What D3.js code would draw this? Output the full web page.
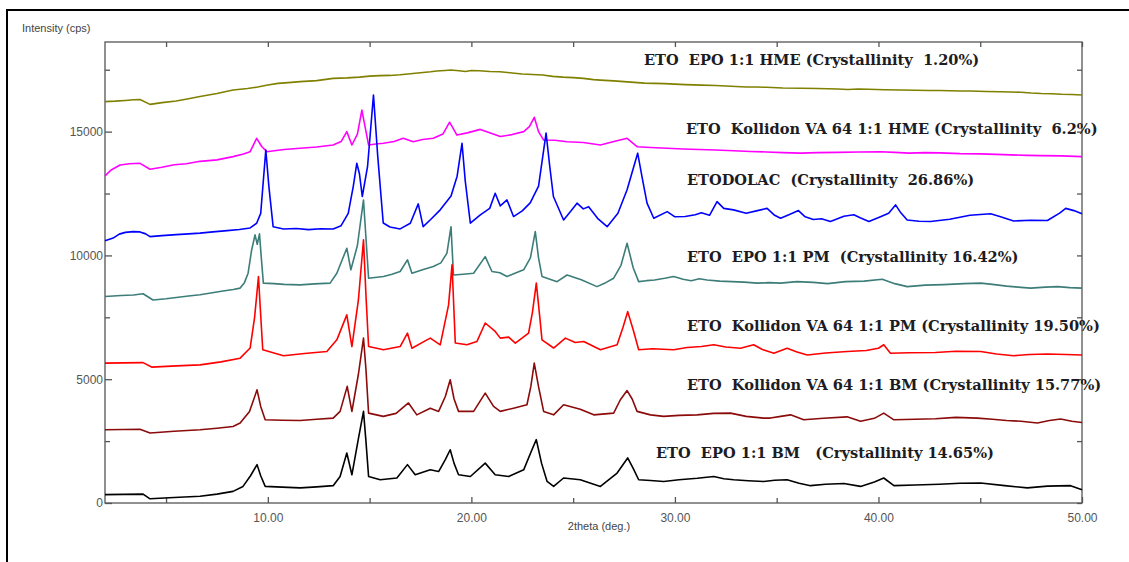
<!DOCTYPE html>
<html>
<head>
<meta charset="utf-8">
<script src="https://cdn.jsdelivr.net/npm/d3@7"></script>
<style>
  html, body { margin: 0; padding: 0; background: #fff; }
  svg { display: block; }
</style>
</head>
<body>
<svg id="xrd-chart" width="1129" height="562"></svg>
<script>
// 2theta (deg.) / intensity (cps)
const hmeEpo = [[2.0,16210],[2.5,16230],[3.0,16260],[3.4,16290],[3.72,16300],[4.21,16100],[4.8,16170],[5.5,16240],[6.1,16330],[6.67,16420],[7.5,16540],[8.29,16680],[9.0,16740],[9.5,16800],[10.0,16880],[10.5,16950],[11.0,16980],[11.59,17020],[12.4,17060],[13.21,17150],[13.9,17170],[14.5,17200],[15.0,17240],[15.5,17260],[16.0,17270],[16.5,17300],[17.0,17340],[17.5,17380],[18.0,17420],[18.3,17450],[18.7,17470],[19.0,17490],[19.4,17460],[19.7,17430],[20.0,17470],[20.4,17460],[20.9,17430],[21.4,17420],[22.0,17370],[22.5,17330],[23.0,17310],[23.5,17290],[24.0,17230],[24.5,17200],[25.0,17180],[25.5,17150],[26.0,17100],[26.34,17080],[27.0,17050],[27.5,17020],[28.0,16990],[28.5,16960],[29.0,16950],[29.5,16940],[30.0,16920],[30.5,16900],[31.3,16880],[32.0,16860],[32.5,16840],[33.0,16820],[33.5,16800],[34.0,16800],[34.5,16790],[35.3,16760],[36.2,16750],[37.0,16740],[37.5,16730],[38.0,16720],[38.5,16700],[39.0,16720],[39.5,16710],[40.3,16690],[41.1,16680],[41.8,16670],[42.5,16660],[43.0,16660],[43.5,16650],[44.0,16640],[44.5,16640],[45.3,16620],[46.0,16610],[46.5,16600],[47.0,16590],[47.5,16560],[48.0,16540],[48.5,16530],[49.0,16510],[49.5,16500],[50.0,16480]];

const hmeKol = [[2.0,13210],[2.3,13450],[2.74,13650],[3.2,13700],[3.72,13720],[4.21,13480],[4.8,13560],[5.4,13660],[6.0,13700],[6.67,13800],[7.5,13860],[8.29,13990],[8.8,14100],[9.13,14190],[9.45,14730],[9.7,14400],[9.95,14190],[10.4,14240],[10.8,14280],[11.59,14330],[12.4,14380],[13.21,14460],[13.6,14600],[13.88,15000],[14.13,14460],[14.4,14900],[14.62,15870],[14.8,15100],[14.95,14460],[15.3,14500],[15.68,14530],[16.2,14600],[16.65,14730],[17.14,14590],[17.6,14680],[18.13,14730],[18.6,14900],[18.93,15380],[19.29,14860],[19.8,14950],[20.44,15090],[20.9,14950],[21.42,14800],[22.0,14880],[22.57,15000],[22.85,15200],[23.09,15580],[23.3,15000],[23.55,14660],[24.1,14650],[24.7,14590],[25.5,14560],[26.34,14460],[27.0,14600],[27.65,14730],[28.14,14390],[28.8,14360],[29.62,14330],[30.4,14300],[31.2,14280],[32.0,14260],[32.88,14230],[33.7,14200],[34.5,14180],[35.3,14150],[36.17,14130],[37.0,14150],[38.0,14160],[39.0,14180],[40.1,14190],[40.8,14160],[41.5,14130],[42.3,14150],[43.0,14140],[44.0,14110],[45.0,14100],[45.8,14080],[46.5,14060],[47.3,14040],[48.0,14030],[49.0,14020],[50.0,13990]];

const etodolac = [[2.0,10590],[2.4,10700],[2.7,10860],[3.0,10930],[3.38,10960],[3.72,10950],[4.0,10870],[4.21,10760],[4.8,10800],[5.5,10840],[6.1,10870],[6.67,10900],[7.3,10950],[8.0,11000],[8.6,11050],[9.13,11110],[9.45,11300],[9.65,11700],[9.9,14260],[10.05,12800],[10.26,11160],[10.77,11070],[11.4,11090],[12.0,11040],[12.6,11080],[13.21,11070],[13.6,11200],[13.95,11700],[14.2,12800],[14.37,13720],[14.5,13300],[14.64,12380],[14.9,13600],[15.19,16480],[15.4,14000],[15.67,11310],[16.0,11150],[16.5,11070],[17.0,11300],[17.39,12080],[17.63,11160],[18.0,11450],[18.47,11840],[19.0,12400],[19.3,13200],[19.54,14530],[19.7,13000],[19.95,11300],[20.44,11640],[20.9,11900],[21.17,12510],[21.42,12000],[21.75,12240],[22.07,11570],[22.5,11800],[22.89,12120],[23.3,12800],[23.67,14940],[23.85,13600],[24.03,12380],[24.53,11430],[24.9,11800],[25.19,12110],[25.5,11880],[25.76,11970],[26.2,11500],[26.67,11160],[27.2,11700],[27.65,12650],[28.17,14130],[28.4,13100],[28.63,12110],[28.96,11500],[29.62,11770],[30.0,11560],[30.5,11570],[31.0,11640],[31.3,11720],[31.7,11620],[32.07,12170],[32.4,11900],[32.88,11840],[33.5,11700],[34.0,11800],[34.53,11900],[34.9,11620],[35.19,11500],[35.6,11640],[36.07,11810],[36.4,11560],[36.8,11450],[37.2,11480],[37.64,11370],[38.3,11580],[38.79,11640],[39.1,11520],[39.53,11370],[40.1,11560],[40.5,11700],[40.84,12040],[41.1,11720],[41.41,11430],[42.0,11380],[42.56,11370],[43.5,11460],[44.5,11620],[45.51,11680],[46.0,11560],[46.64,11390],[47.5,11420],[48.3,11410],[48.9,11710],[49.2,11900],[49.6,11810],[50.0,11680]];

const pmEpo = [[2.0,8340],[2.8,8380],[3.4,8400],[3.87,8450],[4.36,8200],[5.0,8250],[5.5,8300],[6.1,8360],[6.67,8410],[7.2,8480],[7.8,8560],[8.3,8620],[8.64,8680],[8.85,8900],[9.03,9280],[9.2,10200],[9.37,10830],[9.48,10450],[9.59,10870],[9.68,9900],[9.78,8880],[10.3,8860],[10.8,8830],[11.59,8810],[12.3,8850],[13.06,8880],[13.39,9280],[13.88,10290],[14.08,9420],[14.4,10400],[14.7,12240],[14.95,9080],[15.68,9150],[16.1,9240],[16.5,9350],[16.86,9820],[17.08,9280],[17.6,9420],[18.13,9550],[18.5,9700],[18.8,10090],[19.0,11160],[19.12,9210],[19.6,9240],[20.11,9280],[20.68,9950],[21.01,9350],[21.4,9300],[21.75,9150],[22.2,9300],[22.57,9420],[22.9,9900],[23.14,10960],[23.3,9900],[23.47,9150],[24.21,8940],[24.7,9210],[25.4,9020],[26.17,8740],[26.6,8900],[26.99,9080],[27.35,9600],[27.65,10490],[27.95,9500],[28.22,8940],[28.6,8980],[29.0,9010],[29.5,9080],[29.94,9150],[30.4,9040],[30.8,8980],[31.2,9060],[31.58,9010],[32.2,8960],[32.8,8940],[33.4,8920],[34.04,8880],[34.6,8900],[35.19,8880],[36.0,8940],[36.8,8910],[37.5,8860],[38.38,8940],[39.3,8960],[40.19,9040],[40.8,8860],[41.41,8740],[42.3,8800],[43.2,8820],[44.2,8860],[45.02,8880],[45.6,8830],[46.3,8760],[47.0,8710],[47.48,8680],[48.2,8720],[48.8,8740],[49.4,8700],[50.0,8680]];

const pmKol = [[2.0,5650],[2.9,5660],[3.87,5670],[4.29,5490],[5.5,5540],[6.67,5580],[7.7,5700],[8.64,5850],[9.13,6260],[9.35,7500],[9.54,9150],[9.62,8000],[9.75,6190],[10.77,5950],[11.8,6040],[12.9,6120],[13.39,6590],[13.88,7600],[14.13,6320],[14.45,8200],[14.7,10630],[14.82,8400],[14.95,6320],[15.68,6190],[16.5,6320],[16.86,6860],[17.08,6250],[17.82,6590],[17.98,6660],[18.47,6390],[18.88,8000],[19.05,9620],[19.21,6460],[19.78,6390],[20.27,6520],[20.68,7270],[21.17,6930],[21.42,6660],[21.83,6700],[22.16,6460],[22.81,6860],[23.0,7700],[23.19,8880],[23.35,7600],[23.47,6590],[24.04,6260],[24.62,6660],[25.1,6480],[25.52,6520],[26.34,6190],[27.16,6390],[27.45,7100],[27.68,7730],[27.95,7000],[28.22,6190],[28.9,6230],[29.94,6190],[30.6,6280],[31.3,6320],[31.91,6390],[32.5,6300],[33.22,6250],[33.87,6390],[34.3,6200],[34.86,6050],[35.51,6250],[36.0,6100],[36.5,5980],[37.4,6060],[38.46,6120],[39.4,6160],[40.0,6250],[40.26,6390],[40.59,6050],[41.5,6070],[42.8,6080],[43.8,6130],[45.02,6120],[45.8,6020],[46.64,5950],[47.4,6000],[48.3,6020],[49.2,6000],[50.0,5980]];

const bmKol = [[2.0,2960],[2.9,2970],[3.72,2980],[4.21,2830],[5.4,2900],[6.67,2960],[7.5,3020],[8.29,3090],[8.64,3230],[9.1,3700],[9.47,4570],[9.65,3900],[9.87,3360],[10.7,3340],[11.59,3330],[12.4,3380],[13.21,3430],[13.55,3700],[13.9,4710],[14.13,3700],[14.45,5200],[14.7,6660],[14.82,5400],[14.95,3630],[15.67,3500],[16.3,3620],[16.91,4040],[17.32,3560],[17.98,3830],[18.39,3700],[18.72,4300],[18.96,4980],[19.15,4200],[19.37,3700],[20.11,3700],[20.68,4440],[21.09,3900],[21.42,3700],[22.07,3830],[22.73,3970],[22.92,4700],[23.09,5650],[23.3,4700],[23.55,3700],[24.04,3560],[24.53,3970],[25.35,3790],[26.01,3560],[26.99,3630],[27.32,4170],[27.65,4540],[27.9,4200],[28.14,3700],[28.8,3560],[29.45,3500],[30.2,3540],[31.09,3560],[31.9,3620],[32.73,3630],[33.5,3500],[34.36,3430],[34.69,3430],[35.2,3500],[35.68,3560],[36.33,3360],[37.3,3420],[38.46,3480],[39.12,3300],[39.8,3420],[40.26,3630],[40.76,3360],[41.8,3380],[42.8,3400],[43.8,3460],[44.86,3430],[45.6,3380],[46.3,3330],[47.0,3300],[47.81,3230],[48.4,3330],[48.95,3390],[49.5,3300],[50.0,3250]];

const bmEpo = [[2.0,340],[2.9,350],[3.87,360],[4.21,170],[5.4,220],[6.67,270],[7.5,360],[8.29,470],[8.78,670],[9.15,1100],[9.47,1550],[9.65,1100],[9.87,670],[10.7,640],[11.59,610],[12.4,650],[13.21,700],[13.55,1070],[13.88,2020],[14.13,1140],[14.45,2600],[14.7,3700],[14.82,2500],[14.95,1070],[15.52,940],[16.34,1010],[16.86,1550],[17.24,1140],[17.98,1340],[18.39,1270],[18.72,1750],[18.96,2150],[19.15,1600],[19.37,1140],[19.95,1070],[20.68,1610],[21.17,1140],[21.83,1070],[22.57,1340],[22.95,2100],[23.19,2560],[23.45,1600],[23.72,870],[24.04,670],[24.53,1010],[25.35,940],[26.34,670],[27.16,1210],[27.68,1820],[27.95,1400],[28.22,940],[28.8,910],[29.45,870],[30.2,940],[31.1,1000],[31.91,1070],[32.4,980],[32.89,940],[33.6,900],[34.36,870],[34.9,920],[35.51,940],[36.1,800],[36.66,700],[37.4,760],[38.3,790],[39.12,670],[39.8,850],[40.26,1010],[40.76,700],[41.8,730],[43.0,760],[44.0,800],[45.02,810],[46.2,700],[47.31,610],[48.3,680],[49.44,700],[50.0,540]];

const seriesNames = [
    "ETO  EPO 1:1 HME (Crystallinity  1.20%)",
    "ETO  Kollidon VA 64 1:1 HME (Crystallinity  6.2%)",
    "ETODOLAC  (Crystallinity  26.86%)",
    "ETO  EPO 1:1 PM  (Crystallinity 16.42%)",
    "ETO  Kollidon VA 64 1:1 PM (Crystallinity 19.50%)",
    "ETO  Kollidon VA 64 1:1 BM (Crystallinity 15.77%)",
    "ETO  EPO 1:1 BM   (Crystallinity 14.65%)"
];
const seriesData = [hmeEpo, hmeKol, etodolac, pmEpo, pmKol, bmKol, bmEpo];

const xMajorTicks = [10, 20, 30, 40, 50];
const xMinorTicks = [5, 15, 25, 35, 45];
const yMajorTicks = [0, 5000, 10000, 15000];
const yMinorTicks = [2500, 7500, 12500, 17500];
const xDomain = [2, 50];
const yDomain = [0, 18620];

function draw_xrd(containerId = '#xrd-chart') {
    const svg = d3.select(containerId);
    const width = 1129;
    const height = 562;

    const colors = ["#808000", "#ff00ff", "#0000ff", "#3d7d79", "#ff0000", "#8b0a0a", "#000000"];
    // label anchor (left x, baseline y) in pixels
    const labelPos = [[644, 65], [686, 134], [687, 185], [687, 262], [687, 331], [687, 390], [656, 458]];

    svg.append("rect").attr("width", width).attr("height", height).attr("fill", "#fff");

    // outer frame (only top and left edges are visible)
    svg.append("path")
        .attr("d", `M7,${height} L7,10 L${width},10`)
        .attr("fill", "none")
        .attr("stroke", "#000")
        .attr("stroke-width", 2);

    const margin = { top: 42, right: 47, bottom: 59, left: 105 };
    const innerWidth = width - margin.left - margin.right;
    const innerHeight = height - margin.top - margin.bottom;

    const g = svg.append("g")
        .attr("transform", `translate(${margin.left},${margin.top})`);

    const x = d3.scaleLinear().domain(xDomain).range([0, innerWidth]);
    const y = d3.scaleLinear().domain(yDomain).range([innerHeight, 0]);

    const axisColor = "#555";
    const fmt = d3.format(".2f");

    // AXES (ticks point inward)
    g.append("g")
        .attr("transform", `translate(0,${innerHeight})`)
        .call(d3.axisBottom(x).tickValues(xMajorTicks).tickFormat(fmt).tickSizeInner(-6).tickSizeOuter(0).tickPadding(10));
    g.append("g")
        .attr("transform", `translate(0,${innerHeight})`)
        .call(d3.axisBottom(x).tickValues(xMinorTicks).tickFormat("").tickSizeInner(-5).tickSizeOuter(0));

    g.append("g")
        .call(d3.axisTop(x).tickValues(xMajorTicks.concat(xMinorTicks)).tickFormat("").tickSizeInner(-5).tickSizeOuter(0));

    g.append("g")
        .call(d3.axisLeft(y).tickValues(yMajorTicks).tickFormat(d3.format("d")).tickSizeInner(-7).tickSizeOuter(0).tickPadding(2));
    g.append("g")
        .call(d3.axisLeft(y).tickValues(yMinorTicks).tickFormat("").tickSizeInner(-5).tickSizeOuter(0));

    g.append("g")
        .attr("transform", `translate(${innerWidth},0)`)
        .call(d3.axisRight(y).tickValues(yMajorTicks.concat(yMinorTicks)).tickFormat("").tickSizeInner(-5).tickSizeOuter(0));

    g.selectAll(".domain").remove();
    g.append("rect")
        .attr("width", innerWidth)
        .attr("height", innerHeight)
        .attr("fill", "none")
        .attr("stroke", axisColor)
        .attr("stroke-width", 1.3);

    g.selectAll(".tick line").attr("stroke", axisColor).attr("stroke-width", 1.3);
    g.selectAll(".tick text")
        .attr("fill", "#555")
        .style("font-family", "'Liberation Sans', Arial, sans-serif")
        .style("font-size", "12px");

    // LINES
    const line = d3.line()
        .x(d => x(d[0]))
        .y(d => y(d[1]))
        .curve(d3.curveLinear);

    g.selectAll(".xrd-line")
        .data(seriesData)
        .enter().append("path")
        .attr("class", "xrd-line")
        .attr("fill", "none")
        .attr("stroke", (d, i) => colors[i])
        .attr("stroke-width", 1.6)
        .attr("stroke-linejoin", "round")
        .attr("d", line);

    // SERIES LABELS
    svg.selectAll(".series-label")
        .data(seriesNames)
        .enter().append("text")
        .attr("class", "series-label")
        .attr("x", (d, i) => labelPos[i][0])
        .attr("y", (d, i) => labelPos[i][1])
        .attr("fill", "#1c1c22")
        .style("font-family", "'DejaVu Serif', serif")
        .style("font-weight", "bold")
        .style("font-size", "14.6px")
        .style("white-space", "pre")
        .text(d => d);

    // AXIS TITLES
    svg.append("text")
        .attr("x", 22)
        .attr("y", 32)
        .attr("fill", "#444")
        .style("font-family", "'Liberation Sans', Arial, sans-serif")
        .style("font-size", "11px")
        .text("Intensity (cps)");

    svg.append("text")
        .attr("x", 599)
        .attr("y", 530)
        .attr("text-anchor", "middle")
        .attr("fill", "#444")
        .style("font-family", "'Liberation Sans', Arial, sans-serif")
        .style("font-size", "11px")
        .text("2theta (deg.)");
}

draw_xrd();
</script>
</body>
</html>
